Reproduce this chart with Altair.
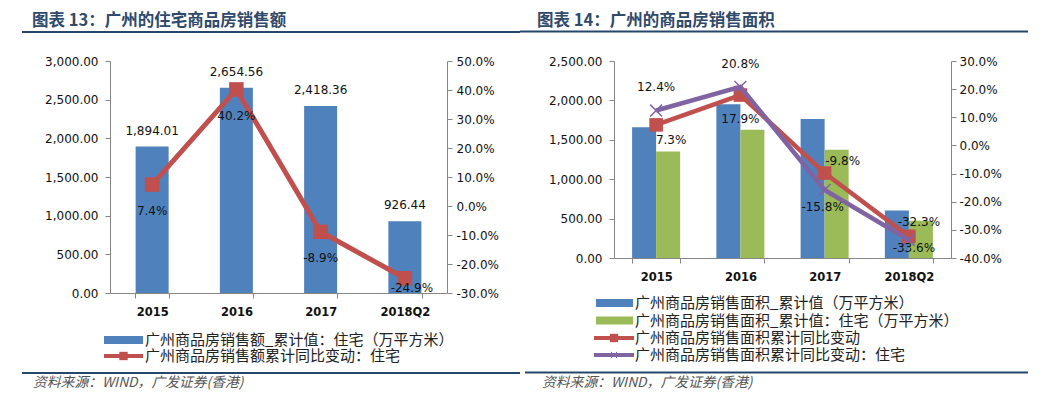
import altair as alt
import pandas as pd

# ---------------- data ----------------
cats = ["2015", "2016", "2017", "2018Q2"]
amount = [1894.01, 2654.56, 2418.36, 926.44]          # 广州商品房销售额_累计值：住宅
amount_yoy = [7.4, 40.2, -8.9, -24.9]                # 累计同比变动：住宅 (%)
area_all = [1658, 1951, 1764, 603]                   # 销售面积_累计值
area_res = [1352, 1629, 1373, 472]                   # 销售面积_累计值：住宅
area_all_yoy = [7.3, 17.9, -9.8, -32.3]              # 销售面积累计同比变动 (%)
area_res_yoy = [12.4, 20.8, -15.8, -33.6]            # 销售面积累计同比变动：住宅 (%)

left_ticks = [0, 500, 1000, 1500, 2000, 2500, 3000]
left_pct_ticks = [-30, -20, -10, 0, 10, 20, 30, 40, 50]
right_ticks = [0, 500, 1000, 1500, 2000, 2500]
right_pct_ticks = [-40, -30, -20, -10, 0, 10, 20, 30]

title_left = "图表 13：广州的住宅商品房销售额"
title_right = "图表 14：广州的商品房销售面积"
legend_left = ["广州商品房销售额_累计值：住宅（万平方米）", "广州商品房销售额累计同比变动：住宅"]
series_bars = ["广州商品房销售面积_累计值（万平方米）", "广州商品房销售面积_累计值：住宅（万平方米）"]
series_lines = ["广州商品房销售面积累计同比变动", "广州商品房销售面积累计同比变动：住宅"]
source = "资料来源：WIND，广发证券(香港)"

# ---------------- styles ----------------
BLUE, GREEN, RED, PURPLE = "#4F81BD", "#9BBB59", "#C0504D", "#8064A2"
GRAY = "#868686"
TITLE_C = "#2F4A6B"
RULE_C = "#24476B"
NUM = "DejaVu Sans"
CJK = "Noto Sans CJK SC"
XMARK = "M-1,-1L1,1M-1,1L1,-1"
PCT_EXPR = "(datum.value < 0 ? '-' : '') + format(abs(datum.value), '.1f') + '%'"

one = pd.DataFrame({"k": [0]})


def deco_text(txt, x, y, size=15, color="#222", weight="normal", style="normal", font=CJK):
    return alt.Chart(one).mark_text(
        text=txt, align="left", baseline="middle", font=font, fontSize=size,
        color=color, fontWeight=weight, fontStyle=style
    ).encode(x=alt.value(x), y=alt.value(y))


def deco_rule(x1, x2, y, color, width):
    return alt.Chart(one).mark_rule(color=color, strokeWidth=width).encode(
        x=alt.value(x1), x2=alt.value(x2), y=alt.value(y))


def deco_rect(x1, x2, y1, y2, color):
    return alt.Chart(one).mark_rect(color=color).encode(
        x=alt.value(x1), x2=alt.value(x2), y=alt.value(y1), y2=alt.value(y2))


def deco_point(x, y, shape, color, size, filled=True, sw=1):
    return alt.Chart(one).mark_point(shape=shape, filled=filled, color=color, size=size,
                                     opacity=1, strokeWidth=sw).encode(
        x=alt.value(x), y=alt.value(y))


def x_enc(pi, po):
    return alt.X("cat:N", sort=cats, title=None,
                 scale=alt.Scale(domain=cats, paddingInner=pi, paddingOuter=po),
                 axis=alt.Axis(labelAngle=0, tickBand="extent", domainColor=GRAY, tickColor=GRAY,
                               tickSize=5, labelFont=NUM, labelFontSize=11.5, labelFontWeight="bold",
                               labelColor="#111", labelPadding=8, grid=False, zindex=1))


def y_left(field, dom, vals, show):
    ax = alt.Axis(values=vals, format=",.2f", orient="left", domainColor=GRAY, tickColor=GRAY,
                  tickSize=5, labelFont=NUM, labelFontSize=12, labelColor="#111",
                  labelPadding=7, grid=False, title=None, zindex=1) if show else None
    return alt.Y(field, scale=alt.Scale(domain=dom, nice=False, zero=False), axis=ax, title=None)


def y_right(field, dom, vals, show, pad):
    ax = alt.Axis(values=vals, orient="right", labelExpr=PCT_EXPR,
                  domainColor=GRAY, tickColor=GRAY, tickSize=5, labelFont=NUM, labelFontSize=12,
                  labelColor="#111", labelPadding=pad, labelAlign="left", grid=False,
                  title=None, zindex=1) if show else None
    return alt.Y(field, scale=alt.Scale(domain=dom, nice=False, zero=False), axis=ax, title=None)


LBL_CALC = "(datum.yoy < 0 ? '-' : '') + format(abs(datum.yoy), '.1f') + '%'"

# ================= LEFT PANEL =================
W1, H1 = 337, 232
dfL = pd.DataFrame({"cat": cats, "val": amount, "yoy": amount_yoy})
xL = x_enc(0.6, 0.3)
domL, domLp = [0, 3000], [-30, 50]

bgL = deco_rect(-102, 412, -52, 329, "white")
barsL = alt.Chart(dfL).mark_bar(color=BLUE, size=33).encode(
    x=xL, y=y_left("val:Q", domL, left_ticks, True))
barLblL = alt.Chart(dfL).mark_text(dy=-16, font=NUM, fontSize=12, color="#111").encode(
    x=xL, y=y_left("val:Q", domL, left_ticks, False), text=alt.Text("val:Q", format=",.2f"))
lineL = alt.Chart(dfL).mark_line(color=RED, strokeWidth=5).encode(
    x=xL, y=y_right("yoy:Q", domLp, left_pct_ticks, True, 4))
ptsL = alt.Chart(dfL).mark_point(shape="square", filled=True, color=RED, size=210, opacity=1).encode(
    x=xL, y=y_right("yoy:Q", domLp, left_pct_ticks, False, 4))

offL = [(0, 26), (0, 27), (0, 26), (7, 10)]
lblL = []
for c, (dx, dy) in zip(cats, offL):
    lblL.append(
        alt.Chart(dfL).transform_filter(alt.datum.cat == c)
        .transform_calculate(lbl=LBL_CALC)
        .mark_text(dx=dx, dy=dy, font=NUM, fontSize=12, color="#111")
        .encode(x=xL, y=y_right("yoy:Q", domLp, left_pct_ticks, False, 4), text="lbl:N")
    )

decoL = [
    deco_text(title_left, -78, -40, size=16.5, color=TITLE_C, weight="bold"),
    deco_rule(-88, 412, -29, RULE_C, 2),
    deco_rect(-6, 33, 275, 283, BLUE),
    deco_text(legend_left[0], 35, 279),
    deco_rule(-6, 33, 295, RED, 4),
    deco_point(13.5, 295, "square", RED, 70),
    deco_text(legend_left[1], 35, 295),
    deco_rule(-88, 410, 312, RULE_C, 2),
    deco_text(source, -77, 322, size=13.8, color="#555", style="italic"),
]

left = alt.layer(bgL, barsL, barLblL, lineL, ptsL, *lblL, *decoL).resolve_scale(
    y="independent").properties(width=W1, height=H1)

# ================= RIGHT PANEL =================
W2, H2 = 337, 197
dfB = pd.DataFrame({
    "cat": cats * 2,
    "series": [series_bars[0]] * 4 + [series_bars[1]] * 4,
    "val": area_all + area_res,
})
dfLn = pd.DataFrame({
    "cat": cats * 2,
    "series": [series_lines[0]] * 4 + [series_lines[1]] * 4,
    "yoy": area_all_yoy + area_res_yoy,
})
xR = x_enc(0.43, 0.215)
domR, domRp = [0, 2500], [-40, 30]

bgR = deco_rect(-94, 422, -52.5, 328.5, "white")
barsR = alt.Chart(dfB).mark_bar().encode(
    x=xR,
    xOffset=alt.XOffset("series:N", sort=series_bars,
                        scale=alt.Scale(domain=series_bars, paddingInner=0, paddingOuter=0)),
    y=y_left("val:Q", domR, right_ticks, True),
    color=alt.Color("series:N", scale=alt.Scale(domain=series_bars, range=[BLUE, GREEN]), legend=None),
)

redDf = dfLn[dfLn.series == series_lines[0]]
purDf = dfLn[dfLn.series == series_lines[1]]

lineRed = alt.Chart(redDf).mark_line(color=RED, strokeWidth=4.5).encode(
    x=xR, y=y_right("yoy:Q", domRp, right_pct_ticks, True, 3))
ptsRed = alt.Chart(redDf).mark_point(shape="square", filled=True, color=RED, size=185, opacity=1).encode(
    x=xR, y=y_right("yoy:Q", domRp, right_pct_ticks, False, 3))
linePur = alt.Chart(purDf).mark_line(color=PURPLE, strokeWidth=4.5).encode(
    x=xR, y=y_right("yoy:Q", domRp, right_pct_ticks, False, 3))
ptsPur = alt.Chart(purDf).mark_point(shape=XMARK, filled=False, color=PURPLE, size=140,
                                     strokeWidth=1.5, opacity=1).encode(
    x=xR, y=y_right("yoy:Q", domRp, right_pct_ticks, False, 3))

offRed = [(15, 15), (0, 24), (18, -12), (10, -14)]
offPur = [(0, -24), (0, -23), (-2, 17), (5, 8)]
lblR = []
for d, offs in ((redDf, offRed), (purDf, offPur)):
    for c, (dx, dy) in zip(cats, offs):
        lblR.append(
            alt.Chart(d).transform_filter(alt.datum.cat == c)
            .transform_calculate(lbl=LBL_CALC)
            .mark_text(dx=dx, dy=dy, font=NUM, fontSize=12, color="#111")
            .encode(x=xR, y=y_right("yoy:Q", domRp, right_pct_ticks, False, 3), text="lbl:N")
        )

rowsR = [242, 259.5, 277, 294]
decoR = [
    deco_text(title_right, -77, -40.5, size=16.5, color=TITLE_C, weight="bold"),
    deco_rule(-94, 414, -29.5, RULE_C, 2),
    deco_rect(-18, 19, rowsR[0] - 4, rowsR[0] + 4, BLUE),
    deco_text(series_bars[0], 21, rowsR[0]),
    deco_rect(-18, 19, rowsR[1] - 4, rowsR[1] + 4, GREEN),
    deco_text(series_bars[1], 21, rowsR[1]),
    deco_rule(-20, 20, rowsR[2], RED, 4),
    deco_point(0, rowsR[2], "square", RED, 70),
    deco_text(series_lines[0], 21, rowsR[2]),
    deco_rule(-20, 20, rowsR[3], PURPLE, 4),
    deco_point(0, rowsR[3], XMARK, PURPLE, 40, filled=False, sw=1),
    deco_text(series_lines[1], 21, rowsR[3]),
    deco_rule(-89, 414, 311.5, RULE_C, 2),
    deco_text(source, -72, 321.5, size=13.8, color="#555", style="italic"),
]

right = alt.layer(bgR, barsR, lineRed, ptsRed, linePur, ptsPur, *lblR, *decoR).resolve_scale(
    y="independent").properties(width=W2, height=H2)

chart = alt.hconcat(left, right, spacing=167, bounds="flush").properties(
    padding=0, background="white"
).configure_view(stroke=None).configure_axis(grid=False)

chart.save("out.html", embed_options={"renderer": "svg", "actions": False})
